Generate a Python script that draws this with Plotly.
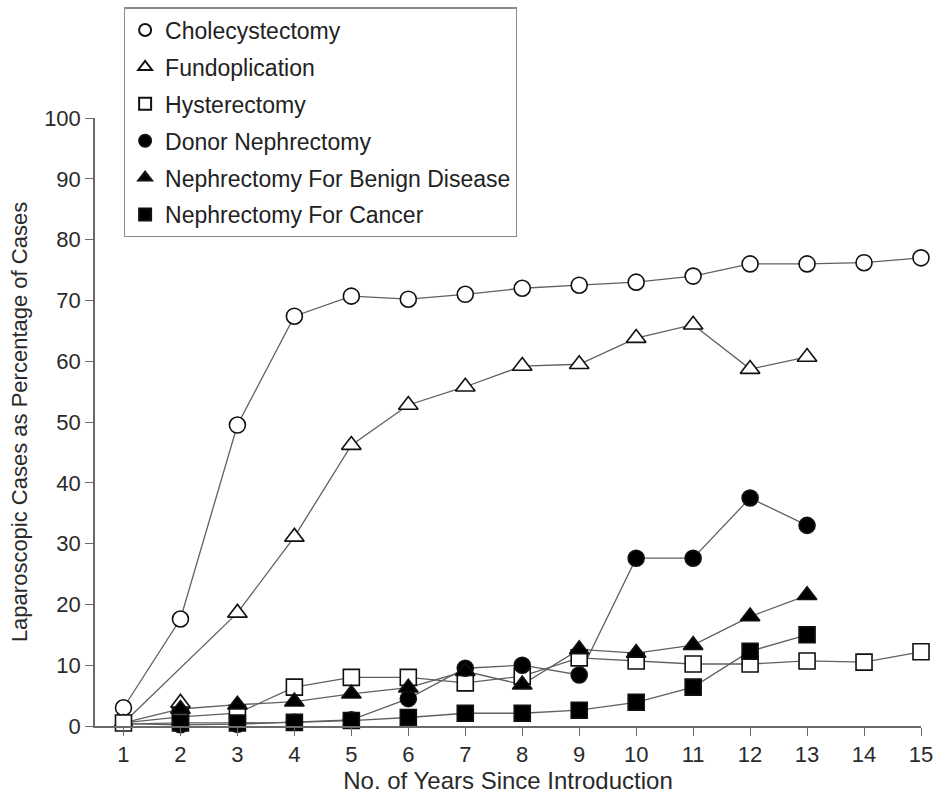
import plotly.graph_objects as go

years = list(range(1, 16))

cholecystectomy = [3.0, 17.6, 49.5, 67.4, 70.7, 70.2, 71.0, 72.0, 72.5, 73.0, 74.0, 76.0, 76.0, 76.2, 77.0]
fundoplication = [0.5, 3.8, 18.6, 31.1, 46.2, 52.8, 55.8, 59.2, 59.5, 63.8, 66.0, 58.7, 60.7]
hysterectomy = [0.5, 1.5, 2.1, 6.4, 8.0, 8.0, 7.1, 8.2, 11.2, 10.7, 10.2, 10.2, 10.7, 10.5, 12.2]
donor_nephrectomy = [0.4, 0.2, 0.3, 0.6, 1.0, 4.5, 9.5, 10.0, 8.4, 27.6, 27.6, 37.5, 33.0]
nephrectomy_benign = [0.5, 2.8, 3.5, 4.0, 5.3, 6.3, 9.0, 6.8, 12.6, 12.0, 13.3, 18.0, 21.5]
nephrectomy_cancer = [0.3, 0.5, 0.5, 0.6, 0.9, 1.4, 2.1, 2.1, 2.6, 3.9, 6.4, 12.3, 15.0]

series = [
    ("Cholecystectomy", cholecystectomy, "circle", "white"),
    ("Fundoplication", fundoplication, "triangle-up", "white"),
    ("Hysterectomy", hysterectomy, "square", "white"),
    ("Donor Nephrectomy", donor_nephrectomy, "circle", "black"),
    ("Nephrectomy For Benign Disease", nephrectomy_benign, "triangle-up", "black"),
    ("Nephrectomy For Cancer", nephrectomy_cancer, "square", "black"),
]

# year skipped by the connecting line of the fundoplication series (as drawn in the source)
fundo_line_skip_years = [2]
# filled series markers hidden at year 1 (covered in source)
hidden_marker_year = 1

fig = go.Figure()

line_color = "#606060"
for name, vals, sym, fill in series:
    xs = years[:len(vals)]
    ys = list(vals)
    if name == "Fundoplication":
        ys = [None if x in fundo_line_skip_years else v for x, v in zip(xs, ys)]
    fig.add_trace(go.Scatter(
        x=xs, y=ys, mode="lines", connectgaps=True,
        line=dict(color=line_color, width=1.3),
        showlegend=False, hoverinfo="skip", cliponaxis=False,
    ))

for i, (name, vals, sym, fill) in enumerate(series):
    xs = years[:len(vals)]
    base = 16 if sym != "triangle-up" else 17
    if fill == "black":
        sizes = [0 if x == hidden_marker_year else base for x in xs]
    else:
        sizes = [base for x in xs]
    fig.add_trace(go.Scatter(
        x=xs, y=vals, mode="markers", name=name,
        marker=dict(symbol=sym, size=sizes, color=fill, opacity=1,
                    line=dict(color="#111111", width=1.6)),
        legendgroup=f"g{i}", cliponaxis=False,
    ))

fig.update_layout(
    width=937, height=800,
    margin=dict(l=95, r=16, t=118, b=74, autoexpand=False),
    paper_bgcolor="white", plot_bgcolor="white",
    font=dict(family="Liberation Sans, Arial, sans-serif", size=22, color="#2a2a2a"),
    showlegend=True,
    legend=dict(
        x=0.035, y=1.182, xanchor="left", yanchor="top",
        bordercolor="#8a8a8a", borderwidth=1.2, bgcolor="white",
        font=dict(size=23, color="#222222"),
        tracegroupgap=4, itemsizing="constant",
    ),
)

fig.update_xaxes(
    range=[0.5, 15], tickmode="array", tickvals=years,
    ticktext=[str(y) for y in years],
    showgrid=False, zeroline=False, showline=True, automargin=False,
    linecolor="#6a6a6a", linewidth=1.5,
    ticks="outside", ticklen=8, tickcolor="#6a6a6a", tickwidth=1.2,
    tickfont=dict(size=22, color="#2a2a2a"),
    title=dict(text="No. of Years Since Introduction", font=dict(size=24, color="#2a2a2a"), standoff=3),
)
fig.update_yaxes(
    range=[0, 100], tickmode="array", tickvals=list(range(0, 101, 10)),
    showgrid=False, zeroline=False, showline=True, automargin=False,
    linecolor="#6a6a6a", linewidth=1.5,
    ticks="outside", ticklen=8, tickcolor="#6a6a6a", tickwidth=1.2,
    tickfont=dict(size=22, color="#2a2a2a"),
    title=dict(text="Laparoscopic Cases as Percentage of Cases", font=dict(size=22, color="#2a2a2a"), standoff=10),
)

fig.write_html("out.html")
